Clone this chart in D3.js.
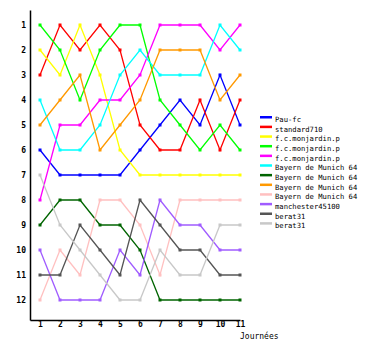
<!DOCTYPE html>
<html><head><meta charset="utf-8">
<script src="https://cdn.jsdelivr.net/npm/d3@7"></script>
<style>
body{margin:0;background:#fff;}
svg{display:block;}
text{font-family:"DejaVu Sans Mono",monospace;}
</style></head>
<body>
<script>
const journees = [1,2,3,4,5,6,7,8,9,10,11];
const rankTicks = [1,2,3,4,5,6,7,8,9,10,11,12];
const seriesNames = ["Pau-fc","standard710","f.c.monjardin.p","f.c.monjardin.p","f.c.monjardin.p","Bayern de Munich 64","Bayern de Munich 64","Bayern de Munich 64","Bayern de Munich 64","manchester45100","berat31","berat31"];
const seriesColors = ["#0000ff","#ff0000","#ffff00","#00ff00","#ff00ff","#00ffff","#006400","#ff9900","#ffc0c0","#a05cff","#555555","#c8c8c8"];
const pauFc        = [6,7,7,7,7,6,5,4,5,3,5];
const standard710  = [3,1,2,1,2,5,6,6,4,6,4];
const monjardinA   = [2,3,1,3,6,7,7,7,7,7,7];
const monjardinB   = [1,2,4,2,1,1,4,5,6,5,6];
const monjardinC   = [8,5,5,4,4,3,1,1,1,2,1];
const bayernA      = [4,6,6,5,3,2,3,3,3,1,2];
const bayernB      = [9,8,8,9,9,10,12,12,12,12,12];
const bayernC      = [5,4,3,6,5,4,2,2,2,4,3];
const bayernD      = [12,10,11,8,8,9,11,8,8,8,8];
const manchester   = [10,12,12,12,10,11,8,9,9,10,10];
const beratA       = [11,11,9,10,11,8,9,10,10,11,11];
const beratB       = [7,9,10,11,12,12,10,11,11,9,9];
const seriesValues = [pauFc,standard710,monjardinA,monjardinB,monjardinC,bayernA,bayernB,bayernC,bayernD,manchester,beratA,beratB];

const W=380,H=350;
const svg=d3.select("body").append("svg").attr("width",W).attr("height",H);
const x=d3.scaleLinear().domain([0.5,11]).range([30,240]);
const y=d3.scaleLinear().domain([0.4,12.8]).range([10,320]);

const line=d3.line().x((d,i)=>x(journees[i])).y(d=>y(d));
const plot=svg.append("g");
seriesValues.forEach((vals,k)=>{
  plot.append("path").datum(vals).attr("d",line).attr("fill","none")
    .attr("stroke",seriesColors[k]).attr("stroke-width",1.3);
});
seriesValues.forEach((vals,k)=>{
  plot.selectAll(null).data(vals).enter().append("rect")
    .attr("x",(d,i)=>x(journees[i])-1.5).attr("y",d=>y(d)-1.5)
    .attr("width",3).attr("height",3).attr("fill",seriesColors[k]);
});

const yAxis=d3.axisLeft(y).tickValues(rankTicks).tickSize(0).tickSizeOuter(0).tickPadding(4);
const gy=svg.append("g").attr("transform","translate(30,0)").call(yAxis);
const xAxis=d3.axisBottom(x).tickValues(journees).tickSize(0).tickSizeOuter(0).tickPadding(1);
const gx=svg.append("g").attr("transform","translate(0,320)").call(xAxis);
[gy,gx].forEach(g=>{
  g.select(".domain").attr("stroke","#000").attr("stroke-width",1.5);
  g.selectAll("text").attr("font-family","DejaVu Sans Mono").attr("font-size",8).attr("font-weight","bold").attr("fill","#000");
});
svg.append("text").attr("x",240).attr("y",338.5).attr("font-size",8).attr("fill","#000").text("Journées");

const lg=svg.append("g");
seriesNames.forEach((n,k)=>{
  const yy=119+k*9.65;
  lg.append("rect").attr("x",260).attr("y",yy-3).attr("width",12).attr("height",2.5).attr("fill",seriesColors[k]);
  lg.append("text").attr("x",275).attr("y",yy+3).attr("font-size",7.2).attr("fill","#000").text(n);
});
</script>
</body></html>
